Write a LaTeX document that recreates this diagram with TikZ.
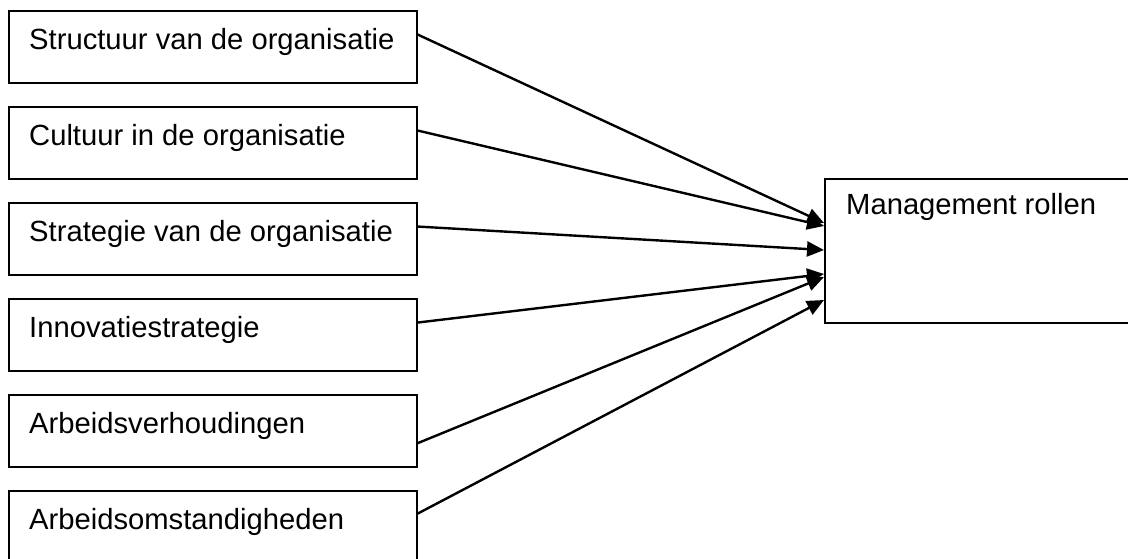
\documentclass[tikz,border=0pt]{standalone}
\usepackage{fontspec}
\setmainfont{Liberation Sans}
\usetikzlibrary{arrows.meta,calc}

\tikzset{
  factor/.style={draw=black, line width=1.7pt, minimum width=408pt, minimum height=72pt,
                 inner sep=0pt, anchor=north west},
  target/.style={draw=black, line width=1.7pt, minimum width=320pt, minimum height=144pt,
                 inner sep=0pt, anchor=north west},
  lbl/.style={inner sep=0pt, anchor=base west, font=\fontsize{29.2}{35}\selectfont},
  link/.style={line width=2.4pt, -{Triangle[length=17pt,width=15pt]}}
}

\begin{document}
\begin{tikzpicture}[x=1pt,y=-1pt]
  \useasboundingbox (0,0) rectangle (1128,558);
  \clip (0,0) rectangle (1128,558);

  % influencing factors
  \node[factor] (b1) at (8,10)  {};
  \node[factor] (b2) at (8,106) {};
  \node[factor] (b3) at (8,202) {};
  \node[factor] (b4) at (8,298) {};
  \node[factor] (b5) at (8,394) {};
  \node[factor] (b6) at (8,490) {};

  \node[lbl] (t1) at ($(b1.north west)+(21,39)$) {Structuur van de organisatie};
  \node[lbl] (t2) at ($(b2.north west)+(21,39)$) {Cultuur in de organisatie};
  \node[lbl] (t3) at ($(b3.north west)+(21,39)$) {Strategie van de organisatie};
  \node[lbl] (t4) at ($(b4.north west)+(21,39)$) {Innovatiestrategie};
  \node[lbl] (t5) at ($(b5.north west)+(21,39)$) {Arbeidsverhoudingen};
  \node[lbl] (t6) at ($(b6.north west)+(21,39)$) {Arbeidsomstandigheden};

  % management roles
  \node[target] (m) at (824,178) {};
  \node[lbl] (tm) at ($(m.north west)+(22,36)$) {Management rollen};

  % arrow ends on the left side of the roles box
  \coordinate (e1) at ($(m.north west)+(0,45)$);
  \coordinate (e2) at ($(m.north west)+(0,48)$);
  \coordinate (e3) at ($(m.north west)+(0,72)$);
  \coordinate (e4) at ($(m.north west)+(0,96)$);
  \coordinate (e5) at ($(m.north west)+(0,99)$);
  \coordinate (e6) at ($(m.north west)+(0,122)$);

  \draw[link] ($(b1.north east)!0.333!(b1.south east)$) -- (e1);
  \draw[link] ($(b2.north east)!0.333!(b2.south east)$) -- (e2);
  \draw[link] ($(b3.north east)!0.333!(b3.south east)$) -- (e3);
  \draw[link] ($(b4.north east)!0.333!(b4.south east)$) -- (e4);
  \draw[link] ($(b5.north east)!0.667!(b5.south east)$) -- (e5);
  \draw[link] ($(b6.north east)!0.32!(b6.south east)$) -- (e6);
\end{tikzpicture}
\end{document}
